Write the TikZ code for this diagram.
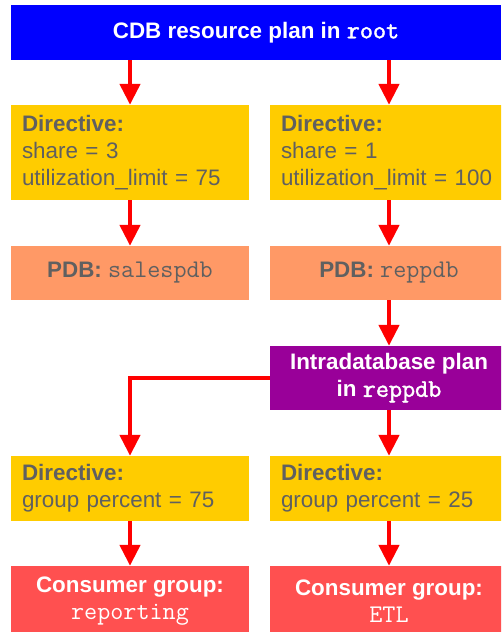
\documentclass[tikz,border=0pt]{standalone}
\usepackage{fontspec}
\setmainfont{Liberation Sans}
\newfontfamily\monobold[FakeBold=1.6]{Latin Modern Mono}
\usetikzlibrary{arrows.meta}
\definecolor{hdrblue}{RGB}{0,0,255}
\definecolor{diryellow}{RGB}{255,204,0}
\definecolor{pdbsalmon}{RGB}{255,153,102}
\definecolor{planpurple}{RGB}{153,0,153}
\definecolor{cgred}{RGB}{255,80,80}
\definecolor{arrred}{RGB}{255,0,0}
\definecolor{txtgray}{RGB}{96,96,96}
\newcommand\mymono[1]{{\ttfamily\fontsize{25.4}{27}\selectfont #1}}
\newcommand\mymonob[1]{{\monobold\fontsize{25.4}{27}\selectfont #1}}
\tikzset{
  box/.style={rectangle, inner xsep=0pt, inner ysep=0pt, minimum width=238pt,
    font=\fontsize{22.4}{27}\selectfont, align=center},
  hdrbox/.style={box, fill=hdrblue, text=white, minimum width=490pt, minimum height=55pt},
  dirbox/.style={box, fill=diryellow, text=txtgray, align=left, text width=216pt,
    inner xsep=11pt, minimum height=#1},
  pdbbox/.style={box, fill=pdbsalmon, text=txtgray, minimum height=54pt},
  planbox/.style={box, fill=planpurple, text=white, minimum height=64pt},
  cgbox/.style={box, fill=cgred, text=white, minimum height=70pt},
  arr/.style={draw=arrred, line width=4.5pt, -{Triangle[length=21pt,width=20pt]}}
}
\begin{document}
\begin{tikzpicture}[x=1pt,y=-1pt]
\useasboundingbox (0,0) rectangle (501,632);
\clip (0,0) rectangle (501,632);
\node[hdrbox] (top) at (256,32.5) {\textbf{CDB resource plan in \mymonob{root}}};
\node[dirbox=95pt] (d1) at (130,152.5) {\textbf{Directive:}\\share = 3\\utilization\_limit = 75};
\node[dirbox=95pt] (d2) at (389,152.5) {\textbf{Directive:}\\share = 1\\utilization\_limit = 100};
\node[pdbbox] (p1) at (130,273) {\textbf{PDB:} \mymono{salespdb}};
\node[pdbbox] (p2) at (389,273) {\textbf{PDB:} \mymono{reppdb}};
\node[planbox] (pl) at (389,378) {\textbf{Intradatabase plan}\\\textbf{in \mymonob{reppdb}}};
\node[dirbox=65pt] (d3) at (130,488.5) {\textbf{Directive:}\\group percent = 75};
\node[dirbox=65pt] (d4) at (389,488.5) {\textbf{Directive:}\\group percent = 25};
\node[cgbox] (c1) at (130,601) {\textbf{Consumer group:}\\\mymono{reporting}};
\node[cgbox] (c2) at (389,601) {\textbf{Consumer group:}\\\mymono{ETL}};
\draw[arr] (top.south -| d1.north) -- (d1.north);
\draw[arr] (top.south -| d2.north) -- (d2.north);
\draw[arr] (d1.south) -- (p1.north);
\draw[arr] (d2.south) -- (p2.north);
\draw[arr] (p2.south) -- (pl.north);
\draw[arr] (pl.south) -- (d4.north);
\draw[arr] (pl.west) -| (d3.north);
\draw[arr] (d3.south) -- (c1.north);
\draw[arr] (d4.south) -- (c2.north);
\end{tikzpicture}
\end{document}
